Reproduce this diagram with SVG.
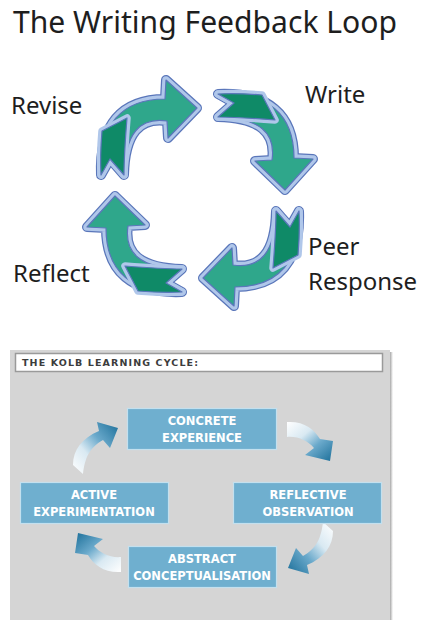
<svg xmlns="http://www.w3.org/2000/svg" width="427" height="622" viewBox="0 0 427 622">
<style>
.lbl{font-family:"Noto Sans","Open Sans",sans-serif;font-size:24px;fill:#1e1e1e}
.o1{fill:none;stroke:#5a76ba;stroke-width:10;stroke-linejoin:round}
.o2{fill:none;stroke:#b0c7ea;stroke-width:7.5;stroke-linejoin:round}
.f{fill:#2fa78b;stroke:#5a76ba;stroke-width:1.2;stroke-linejoin:round}
.fd{fill:#0f8a67;stroke:#5a76ba;stroke-width:1.2;stroke-linejoin:round}
.box{fill:#6fafcf;stroke:#c3e0ee;stroke-width:1.2}
.bt{font-family:"DejaVu Sans","Liberation Sans",sans-serif;font-weight:bold;font-size:11.5px;fill:#ffffff;text-anchor:middle}
</style>
<defs>
<path id="la" d="M -99,-18 C -101,-68 -79,-94 -35,-94 L -34,-113 L -3,-85 L -32,-55 L -33,-72 C -60,-76 -75,-60 -76,-18 L -90,-34 Z"/>
<path id="lt" d="M -98,-62 L -73,-75 C -75,-50 -76,-30 -76,-18 L -90,-34 L -99,-18 C -100,-35 -99,-50 -98,-62 Z"/>
<linearGradient id="gUpRight" x1="0" y1="1" x2="1" y2="0">
<stop offset="0" stop-color="#ffffff"/>
<stop offset="0.35" stop-color="#d9e9f2"/>
<stop offset="0.62" stop-color="#6aa9cb"/>
<stop offset="1" stop-color="#1c6f99"/>
</linearGradient>
<linearGradient id="gDownRight" x1="0" y1="0" x2="1" y2="1">
<stop offset="0" stop-color="#ffffff"/>
<stop offset="0.35" stop-color="#d9e9f2"/>
<stop offset="0.62" stop-color="#6aa9cb"/>
<stop offset="1" stop-color="#1c6f99"/>
</linearGradient>
<path id="kA" d="M 83,474 C 85,458 89,448 103,440 L 110,448 L 118,428 L 97,422 L 99,431 C 82,438 73,450 73,465 Z" fill="url(#gUpRight)"/>
<path id="kB" d="M 287,422 C 304,421 314,429 320,439 L 333,441 L 330,461 L 305,455 L 314,448 C 308,441 298,436 287,437 Z" fill="url(#gDownRight)"/>
<linearGradient id="shadowR" x1="0" y1="0" x2="1" y2="0">
<stop offset="0" stop-color="#8a8a8a"/>
<stop offset="1" stop-color="#ffffff"/>
</linearGradient>
</defs>
<rect x="0" y="0" width="427" height="622" fill="#ffffff"/>

<g id="title">
<text x="13" y="33" font-family="Noto Sans, Open Sans, sans-serif" font-size="31" fill="#1e1e1e" textLength="384" lengthAdjust="spacingAndGlyphs">The Writing Feedback Loop</text>
</g>

<g id="connectors">
<g transform="translate(200,193)">
<use href="#la" class="o1"/><use href="#la" class="o2"/><use href="#la" class="f"/><use href="#lt" class="o2"/><use href="#lt" class="fd"/>
</g>
<g transform="translate(200,193) rotate(90)">
<use href="#la" class="o1"/><use href="#la" class="o2"/><use href="#la" class="f"/><use href="#lt" class="o2"/><use href="#lt" class="fd"/>
</g>
<g transform="translate(200,193) rotate(180)">
<use href="#la" class="o1"/><use href="#la" class="o2"/><use href="#la" class="f"/><use href="#lt" class="o2"/><use href="#lt" class="fd"/>
</g>
<g transform="translate(200,193) rotate(270)">
<use href="#la" class="o1"/><use href="#la" class="o2"/><use href="#la" class="f"/><use href="#lt" class="o2"/><use href="#lt" class="fd"/>
</g>
</g>

<g id="node-revise"><text class="lbl" x="11" y="114">Revise</text></g>
<g id="node-write"><text class="lbl" x="305" y="103">Write</text></g>
<g id="node-peer-response"><text class="lbl" x="308" y="255">Peer</text><text class="lbl" x="308" y="290">Response</text></g>
<g id="node-reflect"><text class="lbl" x="13" y="282">Reflect</text></g>

<g id="kolb-panel">
<rect x="389" y="352" width="4" height="268" fill="url(#shadowR)"/>
<rect x="10" y="350" width="380" height="270" fill="#d5d5d5"/>
<rect x="15.5" y="353.5" width="367" height="18" fill="#ffffff" stroke="#9a9a9a" stroke-width="1.5"/>
<text x="22" y="366" font-family="DejaVu Sans, Liberation Sans, sans-serif" font-weight="bold" font-size="9.5" fill="#3c3c3c" textLength="176" lengthAdjust="spacing">THE KOLB LEARNING CYCLE:</text>
</g>

<g id="kolb-connectors">
<use href="#kA"/>
<use href="#kB"/>
<use href="#kA" transform="rotate(180,203,498)"/>
<use href="#kB" transform="rotate(180,204,497)"/>
</g>

<g id="node-concrete">
<rect class="box" x="127.5" y="408.5" width="149" height="41"/>
<text class="bt" x="202" y="425">CONCRETE</text>
<text class="bt" x="202" y="442">EXPERIENCE</text>
</g>
<g id="node-reflective">
<rect class="box" x="233.5" y="482.5" width="148" height="41"/>
<text class="bt" x="308" y="499">REFLECTIVE</text>
<text class="bt" x="308" y="516">OBSERVATION</text>
</g>
<g id="node-abstract">
<rect class="box" x="128.5" y="546.5" width="148" height="41"/>
<text class="bt" x="202" y="563">ABSTRACT</text>
<text class="bt" x="202" y="580">CONCEPTUALISATION</text>
</g>
<g id="node-active">
<rect class="box" x="20.5" y="482.5" width="148" height="41"/>
<text class="bt" x="94" y="499">ACTIVE</text>
<text class="bt" x="94" y="516">EXPERIMENTATION</text>
</g>
</svg>
